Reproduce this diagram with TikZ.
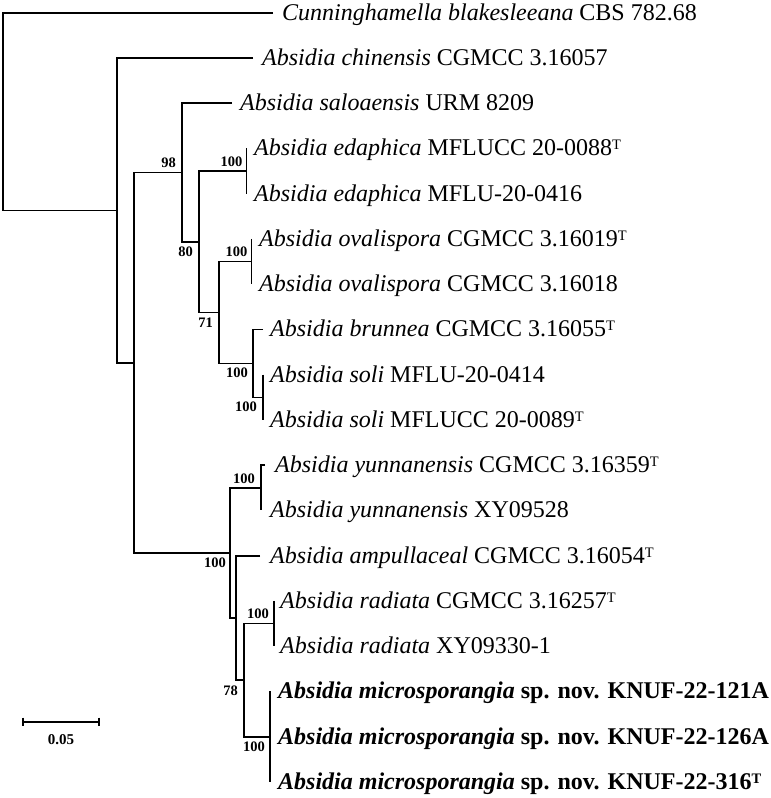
\documentclass[tikz,border=0pt]{standalone}
\usepackage{fontspec}
\setmainfont{Liberation Serif}
\usetikzlibrary{calc}
\newcommand{\typeT}{{\fontsize{14.5}{15}\selectfont\raisebox{6pt}{T}}}
\begin{document}
\begin{tikzpicture}[x=1pt,y=-1pt,
  br/.style={line width=1.6pt},
  taxon/.style={anchor=base west, inner sep=0pt, font=\fontsize{24}{28}\selectfont},
  bs/.style={anchor=east, inner sep=0pt, font=\fontsize{14.5}{16}\selectfont\bfseries}]
\useasboundingbox (0,0) rectangle (771,798);
% internal nodes
\coordinate (R) at (3,111.5);
\coordinate (A) at (117,210.3);
\coordinate (B) at (134,362.7);
\coordinate (C) at (182,172.5);
\coordinate (D) at (199,241.8);
\coordinate (E) at (246.5,171.1);
\coordinate (F) at (219,312.5);
\coordinate (G) at (251.5,261.6);
\coordinate (H) at (253,363.4);
\coordinate (I) at (263,397.3);
\coordinate (J) at (230,552.9);
\coordinate (K) at (261,487.8);
\coordinate (L) at (236,617.9);
\coordinate (M) at (244,680.1);
\coordinate (N) at (274,623.6);
\coordinate (O) at (270,736.7);
% tips
\coordinate (t1) at (273,12.7);
\coordinate (t2) at (253,57.95);
\coordinate (t3) at (232,103.2);
\coordinate (t4) at (246.5,148.45);
\coordinate (t5) at (246.5,193.7);
\coordinate (t6) at (251.5,238.95);
\coordinate (t7) at (251.5,284.2);
\coordinate (t8) at (263,329.45);
\coordinate (t9) at (263,374.7);
\coordinate (t10) at (263,419.95);
\coordinate (t11) at (265,465.2);
\coordinate (t12) at (261,510.45);
\coordinate (t13) at (260,555.7);
\coordinate (t14) at (274,600.95);
\coordinate (t15) at (274,646.2);
\coordinate (t16) at (270,691.45);
\coordinate (t17) at (270,736.7);
\coordinate (t18) at (270,781.95);
% branches
\draw[br] (t1) -| (R) |- (A);
\draw[br] (t2) -| (A) |- (B);
\draw[br] (C) -| (B) |- (J);
\draw[br] (t3) -| (C) |- (D);
\draw[br] (E) -| (D) |- (F);
\draw[br] (t4) -| (E) |- (t5);
\draw[br] (G) -| (F) |- (H);
\draw[br] (t6) -| (G) |- (t7);
\draw[br] (t8) -| (H) |- (I);
\draw[br] (t9) -| (I) |- (t10);
\draw[br] (K) -| (J) |- (L);
\draw[br] (t11) -| (K) |- (t12);
\draw[br] (t13) -| (L) |- (M);
\draw[br] (N) -| (M) |- (O);
\draw[br] (t14) -| (N) |- (t15);
\draw[br] (t16) -| (O) |- (t18);
\draw[br] (O) -- (t17);
% taxa
\node[taxon] (n1) at (282,20.2) {\textit{Cunninghamella blakesleeana} CBS 782.68};
\node[taxon] (n2) at (262,65.45) {\textit{Absidia chinensis} CGMCC 3.16057};
\node[taxon] (n3) at (240,110.7) {\textit{Absidia saloaensis} URM 8209};
\node[taxon] (n4) at (254,155.95) {\textit{Absidia edaphica} MFLUCC 20-0088\typeT};
\node[taxon] (n5) at (254,201.2) {\textit{Absidia edaphica} MFLU-20-0416};
\node[taxon] (n6) at (259,246.45) {\textit{Absidia ovalispora} CGMCC 3.16019\typeT};
\node[taxon] (n7) at (259,291.7) {\textit{Absidia ovalispora} CGMCC 3.16018};
\node[taxon] (n8) at (270,336.95) {\textit{Absidia brunnea} CGMCC 3.16055\typeT};
\node[taxon] (n9) at (270,382.2) {\textit{Absidia soli} MFLU-20-0414};
\node[taxon] (n10) at (270,427.45) {\textit{Absidia soli} MFLUCC 20-0089\typeT};
\node[taxon] (n11) at (275,472.7) {\textit{Absidia yunnanensis} CGMCC 3.16359\typeT};
\node[taxon] (n12) at (270,517.95) {\textit{Absidia yunnanensis} XY09528};
\node[taxon] (n13) at (270,563.2) {\textit{Absidia ampullaceal} CGMCC 3.16054\typeT};
\node[taxon] (n14) at (280,608.45) {\textit{Absidia radiata} CGMCC 3.16257\typeT};
\node[taxon] (n15) at (280,653.7) {\textit{Absidia radiata} XY09330-1};
\node[taxon] (n16) at (278,698.95) {\textbf{\textit{Absidia microsporangia} sp. nov. KNUF-22-121A}};
\node[taxon] (n17) at (278,744.2) {\textbf{\textit{Absidia microsporangia} sp. nov. KNUF-22-126A}};
\node[taxon] (n18) at (278,789.45) {\textbf{\textit{Absidia microsporangia} sp. nov. KNUF-22-316\typeT}};
% bootstrap
\node[bs] (bC) at ($(C)+(-6,-9.5)$) {98};
\node[bs] (bE) at ($(E)+(-4,-9.5)$) {100};
\node[bs] (bD) at ($(D)+(-6,10)$) {80};
\node[bs] (bG) at ($(G)+(-4,-9.5)$) {100};
\node[bs] (bF) at ($(F)+(-6,10.5)$) {71};
\node[bs] (bH) at ($(H)+(-5,9)$) {100};
\node[bs] (bI) at ($(I)+(-6,9)$) {100};
\node[bs] (bJ) at ($(J)+(-4,9.5)$) {100};
\node[bs] (bK) at ($(K)+(-6,-9.5)$) {100};
\node[bs] (bM) at ($(M)+(-6,10.5)$) {78};
\node[bs] (bN) at ($(N)+(-5,-10)$) {100};
\node[bs] (bO) at ($(O)+(-5,10)$) {100};
% scale bar
\coordinate (s1) at (22.7,721.7);
\coordinate (s2) at (99,721.7);
\draw[br] (s1) -- (s2);
\draw[br] ($(s1)+(0,-4)$) -- ($(s1)+(0,4)$);
\draw[br] ($(s2)+(0,-4)$) -- ($(s2)+(0,4)$);
\node[inner sep=0pt, font=\fontsize{15}{17}\selectfont\bfseries] (sl) at (61,740) {0.05};
\end{tikzpicture}
\end{document}
